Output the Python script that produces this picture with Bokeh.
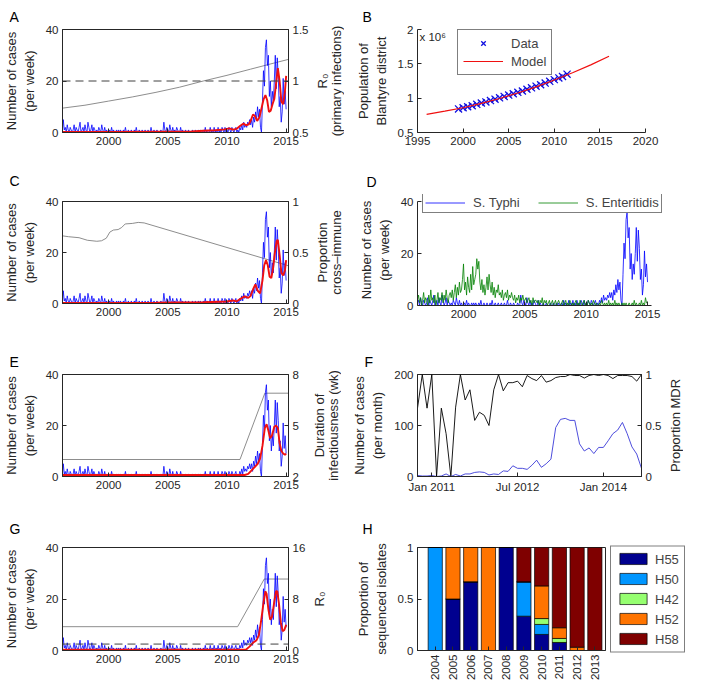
import numpy as np
import math
from bokeh.plotting import figure
from bokeh.models import (Range1d, LinearAxis, FixedTicker, Label, Legend, LegendItem,
                          Span, ColumnDataSource, NumeralTickFormatter)
from bokeh.layouts import column, row
from bokeh.embed import file_html
from bokeh.resources import INLINE

# ---------------- data ----------------
series_start = 1996.0          # first sample of the case series (months)
typhi_cases = [
    2, 0, 5, 1, 2, 0, 3, 1, 0, 2, 1, 0,      # 1996
    1, 3, 0, 2, 1, 0, 2, 4, 0, 1, 2, 0,      # 1997
    3, 1, 0, 4, 2, 0, 1, 3, 0, 2, 1, 0,      # 1998
    1, 0, 2, 1, 0, 3, 1, 0, 2, 0, 1, 0,      # 1999
    0, 1, 0, 2, 0, 1, 0, 0, 1, 0, 1, 0,      # 2000
    1, 0, 0, 1, 0, 2, 0, 0, 1, 0, 0, 1,      # 2001
    0, 0, 1, 0, 2, 0, 0, 1, 0, 0, 1, 0,      # 2002
    0, 1, 0, 0, 1, 0, 0, 2, 0, 0, 1, 0,      # 2003
    0, 1, 0, 0, 0, 1, 0, 0, 4, 1, 0, 2,      # 2004
    1, 0, 3, 1, 0, 2, 0, 1, 0, 2, 1, 0,      # 2005
    0, 2, 0, 1, 0, 0, 1, 0, 0, 1, 0, 0,      # 2006
    0, 1, 0, 0, 1, 0, 0, 1, 0, 1, 0, 0,      # 2007
    1, 0, 2, 0, 1, 0, 0, 2, 0, 1, 0, 2,      # 2008
    0, 1, 0, 2, 0, 1, 0, 2, 1, 0, 2, 0,      # 2009
    1, 0, 2, 1, 0, 2, 1, 0, 1, 2, 0, 1,      # 2010
    0, 2, 1, 3, 1, 4, 2, 3, 2, 4, 3, 5,      # 2011
    3, 5, 2, 6, 4, 8, 5, 10, 6, 9, 2, 0,     # 2012
    12, 24, 18, 33, 36, 26, 30, 14, 20, 10, 16, 12,  # 2013
    20, 30, 17, 29, 22, 10, 14, 4, 8, 21, 11, 16,    # 2014
    9,                                               # 2015
]
enteritidis_cases = [
    1, 3, 0, 2, 4, 1, 3, 0, 2, 5, 1, 3,      # 1996
    2, 0, 4, 1, 6, 2, 3, 1, 4, 0, 2, 5,      # 1997
    1, 3, 2, 5, 1, 4, 2, 6, 3, 1, 4, 5,      # 1998
    3, 6, 2, 5, 8, 3, 7, 4, 9, 5, 6, 10,     # 1999
    16, 6, 9, 4, 11, 7, 5, 12, 6, 15, 8, 10, # 2000
    12, 18, 14, 17, 9, 6, 10, 5, 8, 4, 7, 11,# 2001
    6, 12, 8, 5, 9, 4, 7, 3, 6, 5, 8, 4,     # 2002
    5, 3, 6, 2, 4, 5, 3, 6, 2, 4, 3, 5,      # 2003
    3, 2, 4, 1, 3, 2, 4, 1, 3, 2, 4, 2,      # 2004
    2, 3, 1, 2, 3, 1, 2, 0, 3, 1, 2, 2,      # 2005
    1, 2, 0, 2, 1, 3, 0, 2, 1, 2, 0, 1,      # 2006
    2, 0, 1, 2, 0, 1, 2, 0, 1, 2, 1, 0,      # 2007
    1, 2, 0, 1, 2, 0, 1, 0, 2, 1, 0, 1,      # 2008
    0, 1, 2, 0, 1, 0, 2, 1, 0, 1, 2, 0,      # 2009
    1, 0, 2, 1, 0, 1, 0, 2, 1, 0, 1, 0,      # 2010
    0, 1, 0, 2, 1, 0, 1, 0, 1, 0, 2, 0,      # 2011
    1, 0, 1, 0, 2, 0, 1, 0, 1, 0, 0, 1,      # 2012
    0, 1, 0, 1, 0, 0, 1, 0, 0, 1, 0, 2,      # 2013
    0, 1, 0, 0, 1, 0, 2, 0, 1, 0, 3, 1,      # 2014
    1,                                       # 2015
]

# model fits (red) per panel
modelA_t = [1996.0, 2000.0, 2004.0, 2007.0, 2008.0, 2009.0, 2009.8, 2010.2, 2010.5, 2010.8, 2011.1,
            2011.4, 2011.6, 2011.85, 2012.0, 2012.2, 2012.35, 2012.55, 2012.75, 2012.95, 2013.1,
            2013.25, 2013.4, 2013.55, 2013.7, 2013.85, 2014.0, 2014.15, 2014.3, 2014.45, 2014.6,
            2014.75, 2014.9, 2015.0]
modelA_v = [0.2, 0.2, 0.3, 0.4, 0.7, 0.9, 1.2, 1.6, 1.1, 1.4, 2.5, 3.5, 2.8, 3.2, 4.5, 7.0, 6.5,
            4.5, 6.0, 10.0, 13.0, 14.5, 12.5, 8.0, 8.5, 11.0, 13.0, 19.0, 25.0, 20.0, 12.0, 11.0,
            16.0, 22.0]
modelC_t = [1996.0, 2004.0, 2008.0, 2010.0, 2010.5, 2010.8, 2011.2, 2011.5, 2011.8, 2012.0, 2012.2,
            2012.4, 2012.6, 2012.8, 2013.0, 2013.15, 2013.3, 2013.45, 2013.6, 2013.75, 2013.9,
            2014.05, 2014.2, 2014.3, 2014.45, 2014.6, 2014.75, 2014.9, 2015.0]
modelC_v = [0.2, 0.3, 0.5, 0.8, 1.2, 0.8, 2.0, 2.8, 2.2, 3.0, 5.5, 7.5, 5.0, 4.0, 9.0, 15.0, 17.0,
            15.0, 10.5, 10.0, 14.0, 20.0, 24.5, 25.0, 19.0, 12.0, 11.0, 13.0, 17.0]
modelE_t = [1996.0, 2011.5, 2011.8, 2012.1, 2012.4, 2012.6, 2012.8, 2013.0, 2013.2, 2013.35, 2013.5,
            2013.65, 2013.8, 2014.0, 2014.15, 2014.3, 2014.45, 2014.6, 2014.75, 2014.9, 2015.0]
modelE_v = [0.6, 0.6, 1.0, 2.5, 4.0, 5.0, 7.0, 12.0, 19.0, 20.5, 18.0, 15.0, 16.0, 19.5, 20.0,
            19.0, 13.0, 10.0, 9.0, 8.5, 9.0]
modelG_t = [1996.0, 2011.6, 2011.9, 2012.2, 2012.5, 2012.7, 2012.9, 2013.1, 2013.25, 2013.35, 2013.5,
            2013.65, 2013.8, 2014.0, 2014.15, 2014.25, 2014.4, 2014.55, 2014.7, 2014.85, 2015.0]
modelG_v = [0.3, 0.3, 1.5, 3.0, 4.0, 6.0, 12.0, 19.0, 23.0, 22.0, 16.0, 12.0, 13.0, 19.0, 23.0,
            23.0, 18.0, 11.0, 7.5, 8.0, 10.0]

# parameter curves (grey, right axes)
r0A_t = [1996.0, 1998.0, 2000.0, 2002.0, 2004.0, 2006.0, 2008.0, 2010.0, 2012.0, 2014.0, 2015.2]
r0A_v = [0.735, 0.765, 0.805, 0.845, 0.89, 0.94, 1.0, 1.055, 1.115, 1.175, 1.21]
crossC_t = [1996.0, 1996.6, 1997.5, 1998.2, 1999.0, 1999.4, 1999.8, 2000.1, 2000.4, 2000.8, 2001.1,
            2001.4, 2002.0, 2002.5, 2003.0, 2015.2]
crossC_v = [0.665, 0.655, 0.645, 0.62, 0.61, 0.615, 0.64, 0.70, 0.72, 0.725, 0.745, 0.78, 0.785,
            0.795, 0.79, 0.37]
durE_t = [1996.0, 2011.1, 2013.2, 2015.2]
durE_v = [3.0, 3.0, 6.9, 6.9]
r0G_t = [1996.0, 2010.9, 2013.15, 2015.2]
r0G_v = [3.7, 3.7, 11.1, 11.1]

# panel B: population of Blantyre district (millions)
pop_data_year = [1999.5, 2000.0, 2000.5, 2001.0, 2001.5, 2002.0, 2002.5, 2003.0, 2003.5, 2004.0,
                 2004.5, 2005.0, 2005.5, 2006.0, 2006.5, 2007.0, 2007.5, 2008.0, 2008.5, 2009.0,
                 2009.5, 2010.0, 2010.5, 2010.9, 2011.4]
pop_data_mil = [0.843, 0.86, 0.875, 0.89, 0.91, 0.93, 0.945, 0.965, 0.985, 1.005, 1.025, 1.045,
                1.065, 1.085, 1.105, 1.13, 1.15, 1.175, 1.195, 1.22, 1.245, 1.27, 1.295, 1.315, 1.35]
pop_model_year = [1996, 1998, 2000, 2002, 2004, 2006, 2008, 2010, 2012, 2014, 2016]
pop_model_mil = [0.765, 0.81, 0.86, 0.925, 0.995, 1.075, 1.165, 1.265, 1.37, 1.485, 1.61]

# panel F: monthly cases and proportion MDR, Oct 2010 .. Sep 2014
f_tick_pos = [3, 21, 39]
f_tick_labels = ["Jan 2011", "Jul 2012", "Jan 2014"]
monthly_cases = [2, 1, 1, 2, 0, 1, 5, 0, 4, 1, 5, 5, 8, 9, 8, 3, 5, 4, 11, 10, 21, 16, 16, 14,
                 22, 32, 18, 25, 34, 96, 112, 114, 110, 110, 64, 50, 56, 45, 57, 57, 70, 84, 91,
                 106, 84, 58, 44, 16]
prop_mdr = [0.67, 1.0, 0.67, 1.0, 0.0, 0.67, 0.42, 0.0, 0.68, 1.0, 0.75, 0.85, 0.55, 0.63, 0.60,
            0.50, 0.85, 1.0, 0.84, 0.92, 0.92, 0.935, 0.88, 0.99, 0.96, 0.94, 0.99, 0.925, 0.94,
            0.97, 0.98, 0.98, 1.0, 0.99, 0.99, 0.965, 0.99, 1.0, 0.99, 1.0, 0.99, 0.96, 0.99,
            0.99, 0.99, 0.98, 0.935, 1.0]

# panel H: haplotype proportions
h_years = [2004, 2005, 2006, 2007, 2008, 2009, 2010, 2011, 2012, 2013]
h_names = ["H55", "H50", "H42", "H52", "H58"]
H55 = [0, 0.5, 0.667, 0, 1, 0.333, 0.156, 0.078, 0, 0]
H50 = [1, 0, 0, 0, 0, 0.334, 0.097, 0, 0, 0]
H42 = [0, 0, 0, 0, 0, 0, 0.057, 0.039, 0, 0]
H52 = [0, 0.5, 0.333, 1, 0, 0, 0.317, 0.104, 0.032, 0]
H58 = [0, 0, 0, 0, 0, 0.333, 0.373, 0.779, 0.968, 1]
h_colors = ["#00008f", "#0096ff", "#96ff70", "#ff7400", "#7f0000"]

# ---------------- styling helpers ----------------
FONT = "Liberation Sans"
AX = "#262626"
TICK_FS = "11.5px"
LAB_FS = "13px"
BLUE = "#0000ff"
RED = "#f01010"
GREY = "#808080"


def style_axis(ax, label=None):
    ax.axis_line_color = AX
    ax.major_tick_line_color = AX
    ax.major_tick_in = 4
    ax.major_tick_out = 0
    ax.minor_tick_line_color = None
    ax.major_label_text_font = FONT
    ax.major_label_text_font_size = TICK_FS
    ax.major_label_text_color = AX
    ax.major_label_standoff = 4
    ax.axis_label_text_font = FONT
    ax.axis_label_text_font_size = LAB_FS
    ax.axis_label_text_font_style = "normal"
    ax.axis_label_text_color = AX
    ax.axis_label_standoff = 6
    if label is not None:
        ax.axis_label = label


def base_fig(fw, fh, xr, yr, bl, br, bt, bb, box=True):
    p = figure(frame_width=fw, frame_height=fh, x_range=xr, y_range=yr,
               min_border_left=bl, min_border_right=br, min_border_top=bt,
               min_border_bottom=bb, output_backend="svg", toolbar_location=None)
    p.xgrid.visible = False
    p.ygrid.visible = False
    p.outline_line_color = AX if box else None
    p.background_fill_color = "white"
    p.border_fill_color = "white"
    return p


def letter(p, txt, dx, lift=None):
    # lift: an empty second line with negative spacing raises the letter a little
    p.title.text = txt if lift is None else txt + "\n"
    p.title.align = "left"
    p.title.offset = dx
    p.title.text_font = FONT
    p.title.text_font_size = "14px"
    p.title.text_font_style = "normal"
    p.title.text_color = "black"
    if lift is not None:
        p.title.text_line_height = lift


def side_label(text, fh, bt, bb, width):
    """Thin figure whose (left) axis label is the right-hand axis title of its neighbour."""
    q = figure(frame_width=1, frame_height=fh, x_range=Range1d(0, 1), y_range=Range1d(0, 1),
               min_border_left=width, min_border_right=0, min_border_top=bt,
               min_border_bottom=bb, output_backend="svg", toolbar_location=None)
    q.xaxis.visible = False
    q.xgrid.visible = False
    q.ygrid.visible = False
    q.outline_line_color = None
    q.background_fill_color = "white"
    q.border_fill_color = "white"
    ax = q.yaxis[0]
    style_axis(ax, text)
    ax.ticker = FixedTicker(ticks=[])
    ax.axis_line_color = None
    ax.major_tick_line_color = None
    ax.major_label_standoff = 0
    ax.axis_label_standoff = 0
    ax.axis_label_text_line_height = 0.9
    return q


case_t = series_start + np.arange(len(typhi_cases)) / 12.0
ent_t = series_start + np.arange(len(enteritidis_cases)) / 12.0

L_BL, L_FW, L_BR = 54, 226, 20
R_BL = 73


def ts_panel(txt, fh, bt, bb, rrange, rticks, rlabel, lab_w, g_t, g_v, m_t, m_v,
             dash_at=None, lift=None):
    p = base_fig(L_FW, fh, Range1d(1996.1, 2015.2), Range1d(0, 40), L_BL, L_BR, bt, bb)
    p.extra_y_ranges = {"r": Range1d(*rrange)}
    p.line(g_t, g_v, y_range_name="r", line_color=GREY, line_width=0.9)
    if dash_at is not None:
        p.add_layout(Span(location=dash_at, dimension="width", y_range_name="r",
                          line_color="#404040", line_width=1, line_dash="8 5"))
    p.line(case_t, typhi_cases, line_color=BLUE, line_width=0.8)
    p.line(m_t, m_v, line_color=RED, line_width=1.9)
    style_axis(p.xaxis[0])
    p.xaxis[0].ticker = FixedTicker(ticks=[2000, 2005, 2010, 2015])
    style_axis(p.yaxis[0], "Number of cases\n(per week)")
    p.yaxis[0].ticker = FixedTicker(ticks=[0, 20, 40])
    rax = LinearAxis(y_range_name="r", ticker=FixedTicker(ticks=rticks),
                     formatter=NumeralTickFormatter(format="0.[0]"))
    style_axis(rax)
    p.add_layout(rax, "right")
    letter(p, txt, -L_BL + 1, lift)
    return row(p, side_label(rlabel, fh, bt, bb, lab_w))


# ---------------- left column ----------------
rowA = ts_panel("A", 103, 29, 33, (0.5, 1.5), [0.5, 1, 1.5], "R\u2080\n(primary infections)", 28,
                r0A_t, r0A_v, modelA_t, modelA_v, dash_at=1.0)
rowC = ts_panel("C", 102, 36, 42, (0, 1), [0, 0.5, 1], "Proportion\ncross\u2013immune", 28,
                crossC_t, crossC_v, modelC_t, modelC_v, lift=0.5)
rowE = ts_panel("E", 102, 29, 37, (2, 8), [2, 5, 8], "Duration of\ninfectiousness (wk)", 28,
                durE_t, durE_v, modelE_t, modelE_v)
rowG = ts_panel("G", 103, 34, 33, (0, 16), [0, 8, 16], "R\u2080", 14,
                r0G_t, r0G_v, modelG_t, modelG_v, dash_at=1.0, lift=0.35)

# ---------------- B ----------------
B_FH = 103
pB = base_fig(228, B_FH, Range1d(1995, 2020), Range1d(0.5, 2.0), R_BL, 14, 29, 33, box=False)
rd = pB.scatter(pop_data_year, pop_data_mil, marker="x", size=10, line_color="#1010e0",
                line_width=1.3)
rm = pB.line(pop_model_year, pop_model_mil, line_color=RED, line_width=1.2)
style_axis(pB.xaxis[0])
pB.xaxis[0].ticker = FixedTicker(ticks=[1995, 2000, 2005, 2010, 2015, 2020])
style_axis(pB.yaxis[0], "Population of\nBlantyre district")
pB.yaxis[0].ticker = FixedTicker(ticks=[0.5, 1, 1.5, 2])
pB.yaxis[0].formatter = NumeralTickFormatter(format="0.[0]")
legB = Legend(items=[LegendItem(label="Data", renderers=[rd]),
                     LegendItem(label="Model", renderers=[rm])], location=(40, B_FH - 46))
legB.border_line_color = "black"
legB.label_text_font = FONT
legB.label_text_font_size = "13px"
legB.glyph_width = 40
legB.glyph_height = 16
legB.spacing = 2
legB.padding = 5
legB.margin = 0
legB.label_standoff = 8
pB.add_layout(legB)
pB.add_layout(Label(x=2, y=B_FH - 1, x_units="screen", y_units="screen", text="x 10\u2076",
                    text_font=FONT, text_font_size="11.5px", text_baseline="top",
                    text_align="left", text_color=AX))
letter(pB, "B", -55)

# ---------------- D (frame extended up and right to hold the legend) ----------------
D_FH = 111
pD = base_fig(252, D_FH, Range1d(1996.25, 2016.79), Range1d(0, 42.7), R_BL, 2, 29, 40,
              box=False)
r_ty = pD.line(case_t, typhi_cases, line_color=BLUE, line_width=0.8)
r_en = pD.line(ent_t, enteritidis_cases, line_color="#008000", line_width=0.8)
style_axis(pD.xaxis[0])
pD.xaxis[0].ticker = FixedTicker(ticks=[2000, 2005, 2010, 2015])
pD.xaxis[0].bounds = (1996.25, 2015.3)
style_axis(pD.yaxis[0], "Number of cases\n(per week)")
pD.yaxis[0].ticker = FixedTicker(ticks=[0, 20, 40])
pD.yaxis[0].bounds = (0, 40)
legD = Legend(items=[LegendItem(label="S. Typhi", renderers=[r_ty]),
                     LegendItem(label="S. Enteritidis", renderers=[r_en])],
              location=(5, D_FH - 19), orientation="horizontal")
legD.border_line_color = "black"
legD.label_text_font = FONT
legD.label_text_font_size = "13px"
legD.glyph_width = 40
legD.glyph_height = 15
legD.spacing = 18
legD.padding = 2
legD.margin = 0
legD.label_standoff = 8
pD.add_layout(legD)
letter(pD, "D", -51)

# ---------------- F ----------------
F_FH = 102
pF = base_fig(224, F_FH, Range1d(0, 47), Range1d(0, 200), R_BL, 22, 29, 37)
pF.extra_y_ranges = {"r": Range1d(0, 1)}
f_x = np.arange(len(monthly_cases))
pF.line(f_x, prop_mdr, y_range_name="r", line_color="black", line_width=0.9)
pF.line(f_x, monthly_cases, line_color="#3a3ad8", line_width=0.9)
style_axis(pF.xaxis[0])
pF.xaxis[0].ticker = FixedTicker(ticks=f_tick_pos)
pF.xaxis[0].major_label_overrides = dict(zip(f_tick_pos, f_tick_labels))
style_axis(pF.yaxis[0], "Number of cases\n(per month)")
pF.yaxis[0].ticker = FixedTicker(ticks=[0, 100, 200])
rF = LinearAxis(y_range_name="r", ticker=FixedTicker(ticks=[0, 0.5, 1]),
                formatter=NumeralTickFormatter(format="0.[0]"))
style_axis(rF)
pF.add_layout(rF, "right")
letter(pF, "F", -53)
rowF = row(pF, side_label("Proportion MDR", F_FH, 29, 37, 18))

# ---------------- H ----------------
pH = base_fig(188, 103, Range1d(2003.0, 2013.6), Range1d(0, 1), R_BL, 20, 34, 33)
srcH = ColumnDataSource(dict(year=h_years, H55=H55, H50=H50, H42=H42, H52=H52, H58=H58))
rH = pH.vbar_stack(h_names, x="year", width=0.8, color=h_colors, line_color="black",
                   line_width=0.7, source=srcH)
style_axis(pH.xaxis[0])
pH.xaxis[0].ticker = FixedTicker(ticks=h_years)
pH.xaxis[0].major_label_orientation = math.pi / 2
style_axis(pH.yaxis[0], "Proportion of\nsequenced isolates")
pH.yaxis[0].ticker = FixedTicker(ticks=[0, 0.5, 1])
pH.yaxis[0].formatter = NumeralTickFormatter(format="0.[0]")
legH = Legend(items=[LegendItem(label=n, renderers=[r]) for n, r in zip(h_names, rH)],
              location="center_left")
legH.border_line_color = "black"
legH.label_text_font = FONT
legH.label_text_font_size = "13px"
legH.glyph_width = 34
legH.glyph_height = 14
legH.spacing = 5
legH.padding = 5
legH.margin = 5
legH.label_standoff = 5
pH.add_layout(legH, "right")
letter(pH, "H", -55, lift=0.35)

layout = row(column(rowA, rowC, rowE, rowG), column(pB, pD, rowF, pH))

with open("out.html", "w") as f:
    f.write(file_html(layout, INLINE))
